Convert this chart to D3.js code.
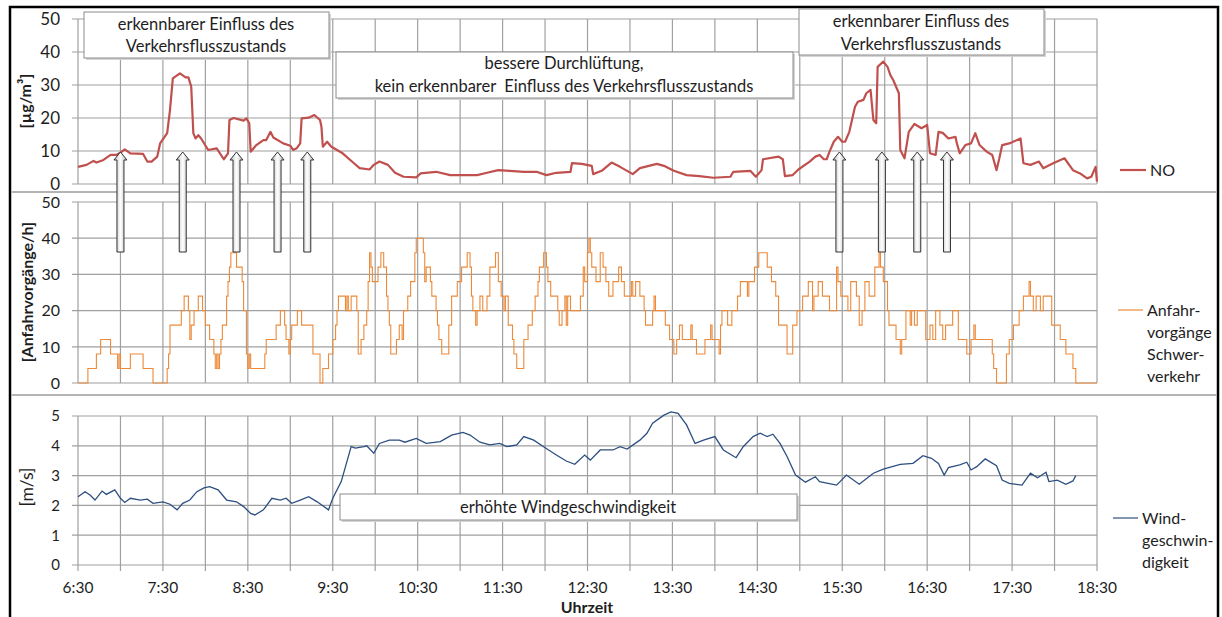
<!DOCTYPE html>
<html>
<head>
<meta charset="utf-8">
<script src="https://d3js.org/d3.v7.min.js"></script>
<style>
  html, body { margin: 0; padding: 0; background: #fff; }
  svg { display: block; font-family: Lato, "Open Sans", sans-serif; }
</style>
</head>
<body>
<svg id="chart" width="1222" height="617"></svg>
<script>
'use strict';

// time is minutes after 6:30
var xTickLabels = ['6:30', '7:30', '8:30', '9:30', '10:30', '11:30', '12:30',
                   '13:30', '14:30', '15:30', '16:30', '17:30', '18:30'];

// NO concentration [µg/m³]
var noSeries = [
  [0, 5.2], [6, 5.8], [11, 7.0], [13, 6.5], [18, 7.3], [23, 8.8], [27, 8.8], [30, 9.5],
  [33, 10.5], [37, 9.3], [46, 9.1], [49, 6.8], [52, 6.8], [56, 8.3], [58, 12.3], [63, 15.4],
  [65, 22.4], [67, 32], [72, 33.5], [76, 32.3], [78, 32.3], [80, 29.5], [81.5, 15.4], [83, 13.8],
  [85, 14.8], [87, 13.8], [92, 10.3], [98, 10.8], [103, 7.5], [106, 9.3], [107, 19.4], [110, 20],
  [117, 19.2], [119, 19.9], [121, 18.4], [122, 9.8], [126, 11.8], [131, 13.3], [133, 13.3],
  [136, 15.8], [138, 14.1], [145, 12.3], [150, 11.6], [152, 10.3], [154.5, 10.8], [157, 12.3],
  [158, 19.9], [163, 20.1], [167, 20.9], [171, 19.4], [172, 17.4], [173, 11.3], [176, 12.8],
  [179, 11.3], [187, 9.3], [195, 6.3], [199, 4.8], [206, 4.4], [209, 5.8], [213, 6.8], [219, 5.8],
  [224, 3.4], [230, 2.2], [239, 2.0], [242, 3.2], [253, 3.7], [263, 2.7], [282, 2.7], [289, 3.4],
  [297, 4.2], [305, 4.0], [315, 3.7], [324, 3.7], [331, 2.7], [338, 3.4], [348, 3.7], [349, 6.3],
  [356, 6.1], [363, 5.5], [364, 3.0], [370, 4.0], [377, 6.5], [383, 5.2], [392, 3.0], [397, 4.8],
  [409, 6.1], [414, 5.5], [421, 4.0], [430, 2.7], [439, 2.4], [449, 1.9], [461, 2.2], [463, 3.7],
  [475, 4.0], [479, 2.2], [483, 4.2], [484, 7.5], [495, 8.3], [498, 7.5], [499.5, 2.4], [505, 2.7],
  [509, 4.4], [517, 6.8], [521, 8.3], [524, 8.8], [527, 7.5], [529, 7.5], [531, 9.8], [534, 12.8],
  [537, 14.3], [540, 12.8], [542, 12.8], [545, 15.8], [549, 23.4], [551, 24.9], [555, 25.5],
  [557, 27.5], [560, 28.5], [562, 19.4], [564, 18.4], [565, 35.5], [569, 37.1], [572, 35.5],
  [574, 33], [576, 31.5], [580, 27.5], [581, 10.3], [584, 7.8], [587, 15.8], [591, 18.2],
  [596, 16.9], [600, 17.9], [602, 9.3], [606, 8.8], [608, 15.8], [611, 15.5], [615, 13.8],
  [620, 14.3], [621, 12.3], [623, 9.3], [627, 11.8], [631, 12.3], [634, 15.4], [637, 11.8],
  [642, 9.8], [646, 8.8], [649, 4.2], [651, 7.8], [653, 11.8], [658, 12.3], [666, 13.8],
  [668, 6.3], [673, 5.8], [679, 6.8], [682, 4.8], [689, 6.3], [697, 7.8], [703, 4.2], [708, 3.2],
  [713, 1.7], [716, 2.2], [719, 5.2], [720, 0.7]
];

// Anfahrvorgänge Schwerverkehr [1/h], value holds from the given minute on
var anfSeries = [
  [0, 0], [7, 4], [13, 8], [16, 12], [23, 8], [28, 4], [29, 8], [30, 4], [37, 8], [46, 4], [53, 0],
  [63, 4], [64, 8], [65, 16], [73, 20], [75, 24], [78, 20], [79, 12], [80, 16], [82, 20], [85, 24],
  [88, 20], [90, 16], [93, 12], [96, 8], [97, 4], [98, 8], [99, 4], [100, 8], [101, 12], [102, 16],
  [105, 24], [106, 28], [107, 32], [108, 36], [112, 32], [116, 28], [117, 20], [119, 8], [120, 4],
  [121, 8], [122, 4], [132, 8], [133, 12], [140, 16], [143, 20], [146, 16], [147, 12], [149, 8],
  [150, 12], [151, 16], [155, 20], [158, 16], [166, 8], [171, 0], [173, 4], [177, 8], [180, 12],
  [182, 16], [183, 20], [184, 24], [189, 20], [190, 24], [191, 20], [193, 24], [197, 20], [198, 8],
  [200, 12], [202, 16], [204, 20], [205, 28], [206, 36], [207, 32], [208, 28], [212, 32], [214, 36],
  [216, 32], [218, 24], [219, 20], [220, 16], [221, 8], [225, 12], [227, 16], [229, 12], [230, 20],
  [233, 24], [235, 28], [238, 36], [239, 40], [244, 36], [245, 28], [246, 32], [249, 28], [250, 24],
  [253, 20], [254, 16], [255, 12], [257, 8], [262, 16], [264, 24], [268, 28], [271, 32], [275, 36],
  [277, 32], [278, 24], [279, 20], [281, 16], [282, 20], [284, 24], [286, 20], [289, 24], [291, 32],
  [295, 36], [297, 28], [299, 24], [301, 20], [302, 24], [304, 16], [307, 12], [308, 8], [310, 4],
  [315, 12], [318, 16], [321, 20], [323, 24], [325, 28], [326, 32], [329, 36], [331, 32], [332, 28],
  [334, 24], [339, 20], [340, 16], [342, 20], [344, 24], [345, 16], [346, 24], [348, 20], [355, 24],
  [357, 32], [358, 28], [360, 36], [361, 40], [362, 36], [363, 32], [366, 28], [369, 36], [371, 32],
  [373, 28], [375, 24], [378, 28], [382, 32], [384, 28], [386, 24], [391, 28], [392, 24], [394, 28],
  [397, 24], [400, 20], [401, 16], [406, 20], [407, 24], [408, 20], [415, 16], [418, 12], [421, 8],
  [423, 12], [425, 16], [427, 12], [433, 16], [434, 12], [437, 8], [443, 12], [447, 16], [448, 12],
  [453, 8], [454, 16], [455, 20], [459, 16], [462, 20], [466, 24], [468, 28], [473, 24], [474, 28],
  [478, 32], [481, 36], [487, 32], [490, 28], [493, 24], [495, 16], [501, 8], [505, 16], [508, 20],
  [512, 24], [516, 28], [519, 20], [520, 24], [523, 28], [526, 24], [531, 20], [536, 32], [537, 28],
  [539, 24], [544, 20], [546, 28], [550, 24], [552, 16], [554, 20], [556, 28], [559, 24], [563, 32],
  [566, 36], [567, 32], [569, 28], [572, 20], [573, 16], [578, 12], [581, 8], [582, 12], [585, 20],
  [588, 16], [589, 20], [591, 16], [593, 20], [599, 12], [602, 16], [604, 12], [606, 20], [609, 16],
  [611, 12], [613, 16], [618, 20], [622, 12], [628, 8], [631, 12], [633, 16], [634, 12], [646, 8],
  [647, 4], [649, 0], [656, 8], [658, 12], [661, 16], [665, 20], [668, 24], [672, 28], [673, 24],
  [675, 20], [677, 24], [680, 20], [682, 24], [688, 16], [694, 12], [698, 8], [703, 4], [705, 0],
  [720, 0]
];

// Windgeschwindigkeit [m/s]
var windSeries = [
  [0, 2.29], [5, 2.46], [8.5, 2.35], [12, 2.18], [17, 2.48], [20, 2.37], [26, 2.52], [30, 2.24],
  [33, 2.10], [37, 2.24], [44, 2.18], [49, 2.21], [53, 2.07], [60, 2.12], [65, 2.04], [70, 1.85],
  [74, 2.07], [79, 2.18], [84, 2.46], [89, 2.59], [93, 2.63], [99, 2.52], [105, 2.18], [112, 2.12],
  [117, 1.96], [122, 1.73], [125, 1.68], [131, 1.85], [137, 2.24], [143, 2.18], [147, 2.24],
  [151, 2.07], [157, 2.18], [163, 2.29], [169, 2.12], [177, 1.85], [180, 2.24], [186, 2.80],
  [190, 3.47], [193, 3.97], [196, 3.92], [202, 3.97], [204, 4.0], [209, 3.75], [213, 4.08],
  [220, 4.19], [227, 4.19], [231, 4.12], [239, 4.25], [246, 4.08], [256, 4.14], [264, 4.36],
  [272, 4.45], [277, 4.36], [284, 4.12], [291, 4.03], [298, 4.08], [303, 3.97], [310, 4.03],
  [315, 4.31], [322, 4.19], [329, 3.97], [338, 3.69], [345, 3.49], [351, 3.38], [358, 3.69],
  [362, 3.52], [369, 3.86], [378, 3.86], [383, 3.97], [388, 3.89], [397, 4.19], [402, 4.42],
  [406, 4.76], [414, 5.03], [419, 5.14], [424, 5.09], [430, 4.70], [436, 4.08], [442, 4.19],
  [450, 4.31], [456, 3.86], [465, 3.60], [470, 3.97], [477, 4.31], [482, 4.42], [487, 4.31],
  [491, 4.39], [496, 4.08], [501, 3.64], [507, 3.02], [514, 2.78], [521, 2.96], [524, 2.80],
  [536, 2.68], [543, 3.02], [552, 2.71], [562, 3.08], [569, 3.22], [581, 3.38], [590, 3.41],
  [597, 3.67], [603, 3.58], [608, 3.41], [612, 3.02], [615, 3.27], [623, 3.36], [628, 3.45],
  [631, 3.19], [635, 3.30], [641, 3.56], [649, 3.33], [653, 2.85], [658, 2.74], [667, 2.68],
  [673, 3.08], [678, 2.93], [684, 3.11], [686, 2.80], [692, 2.85], [698, 2.71], [703, 2.82],
  [705, 3.0]
];

// arrows marking visible traffic influence (minutes after 6:30)
var arrowTimes = [30, 74, 112, 141, 162, 538, 568, 593, 614];

var svg = d3.select('#chart');
var textColor = '#1e1e1e',
    gridColor = '#a0a0a0';

var x = d3.scaleLinear().domain([0, 720]).range([78, 1097]);

var panels = [
  { key: 'no',   y: d3.scaleLinear().domain([0, 50]).range([184, 19]),  ticks: d3.range(0, 51, 10), fontSize: 17 },
  { key: 'anf',  y: d3.scaleLinear().domain([0, 50]).range([383, 202]), ticks: d3.range(0, 51, 10), fontSize: 16 },
  { key: 'wind', y: d3.scaleLinear().domain([0, 5]).range([565, 416]),  ticks: d3.range(0, 6, 1),   fontSize: 15 }
];

// outer frame and panel separators
svg.append('rect')
  .attr('x', 10).attr('y', 7).attr('width', 1208).attr('height', 640)
  .attr('fill', 'none').attr('stroke', '#000').attr('stroke-width', 2.5);

[192, 395].forEach(function (yy) {
  svg.append('line')
    .attr('x1', 11).attr('x2', 1217).attr('y1', yy).attr('y2', yy)
    .attr('stroke', '#b4b4b4').attr('stroke-width', 2);
});

// grids and axes
panels.forEach(function (p) {
  var g = svg.append('g').attr('class', 'panel-' + p.key);
  var y0 = p.y.range()[0], y1 = p.y.range()[1];

  g.selectAll('line.h').data(p.ticks).enter().append('line')
    .attr('x1', x.range()[0] - 6).attr('x2', x.range()[1])
    .attr('y1', function (d) { return p.y(d); })
    .attr('y2', function (d) { return p.y(d); })
    .attr('stroke', gridColor).attr('stroke-width', 1.2);

  var vt = d3.range(0, 721, 30);
  g.selectAll('line.v').data(vt).enter().append('line')
    .attr('x1', function (d) { return x(d); })
    .attr('x2', function (d) { return x(d); })
    .attr('y1', y1)
    .attr('y2', p.key === 'wind' ? y0 + 6 : y0)
    .attr('stroke', gridColor).attr('stroke-width', 1.2);

  g.selectAll('text.yt').data(p.ticks).enter().append('text')
    .attr('x', 60)
    .attr('y', function (d) { return p.y(d); })
    .attr('dy', '0.36em')
    .attr('text-anchor', 'end')
    .attr('font-size', p.fontSize)
    .attr('fill', textColor)
    .text(function (d) { return d; });
});

// x tick labels on the bottom panel
svg.selectAll('text.xt').data(xTickLabels).enter().append('text')
  .attr('x', function (d, i) { return x(i * 60); })
  .attr('y', 593)
  .attr('text-anchor', 'middle')
  .attr('font-size', 15.5)
  .attr('fill', textColor)
  .text(function (d) { return d; });

svg.append('text')
  .attr('x', 587).attr('y', 613)
  .attr('text-anchor', 'middle')
  .attr('font-size', 16).attr('font-weight', 'bold')
  .attr('fill', textColor)
  .text('Uhrzeit');

// y axis titles
function yTitle(label, cx, cy, bold, size) {
  svg.append('text')
    .attr('transform', 'translate(' + cx + ',' + cy + ') rotate(-90)')
    .attr('text-anchor', 'middle')
    .attr('dy', '0.35em')
    .attr('font-size', size)
    .attr('font-weight', bold ? 'bold' : 'normal')
    .attr('fill', textColor)
    .text(label);
}
yTitle('[µg/m³]', 25, 101, true, 16);
yTitle('[Anfahrvorgänge/h]', 27, 292, true, 16);
yTitle('[m/s]', 27, 487, false, 17.5);

// series lines
svg.append('path')
  .datum(anfSeries)
  .attr('fill', 'none')
  .attr('stroke', '#ec8a3a')
  .attr('stroke-width', 1.1)
  .attr('d', d3.line().curve(d3.curveStepAfter)
    .x(function (d) { return x(d[0]); })
    .y(function (d) { return panels[1].y(d[1]); }));

svg.append('path')
  .datum(windSeries)
  .attr('fill', 'none')
  .attr('stroke', '#2c4f80')
  .attr('stroke-width', 1.3)
  .attr('d', d3.line()
    .x(function (d) { return x(d[0]); })
    .y(function (d) { return panels[2].y(d[1]); }));

svg.append('path')
  .datum(noSeries)
  .attr('fill', 'none')
  .attr('stroke', '#c0504d')
  .attr('stroke-width', 2.2)
  .attr('stroke-linejoin', 'round')
  .attr('d', d3.line()
    .x(function (d) { return x(d[0]); })
    .y(function (d) { return panels[0].y(d[1]); }));

// legends
function legend(x1, x2, y, color, width, lines) {
  svg.append('line')
    .attr('x1', x1).attr('x2', x2).attr('y1', y).attr('y2', y)
    .attr('stroke', color).attr('stroke-width', width);
  lines.forEach(function (t, i) {
    svg.append('text')
      .attr('x', x2 + 4).attr('y', y + i * 22)
      .attr('dy', '0.36em')
      .attr('font-size', 16)
      .attr('fill', textColor)
      .text(t);
  });
}
legend(1120, 1146, 170, '#c0504d', 2.2, ['NO']);
legend(1118, 1143, 310, '#ec8a3a', 1.2, ['Anfahr-', 'vorgänge', 'Schwer-', 'verkehr']);
legend(1113, 1138, 518, '#2c4f80', 1.2, ['Wind-', 'geschwin-', 'digkeit']);

// annotation boxes
var defs = svg.append('defs');
function note(x0, y0, w, h, lines, lineYs, cx) {
  svg.append('rect')
    .attr('x', x0 + 2).attr('y', y0 + 2).attr('width', w).attr('height', h)
    .attr('fill', '#d4d4d4');
  svg.append('rect')
    .attr('x', x0).attr('y', y0).attr('width', w).attr('height', h)
    .attr('fill', '#fff').attr('stroke', '#8c8c8c').attr('stroke-width', 1);
  lines.forEach(function (t, i) {
    svg.append('text')
      .attr('x', cx).attr('y', lineYs[i])
      .attr('dy', '0.36em')
      .attr('text-anchor', 'middle')
      .attr('font-size', 16.5)
      .attr('fill', textColor)
      .style('white-space', 'pre')
      .text(t);
  });
}
note(84, 12, 245, 46, ['erkennbarer Einfluss des', 'Verkehrsflusszustands'], [24, 46], 206);
note(336, 52, 457, 46, ['bessere Durchlüftung,', 'kein erkennbarer  Einfluss des Verkehrsflusszustands'], [63, 86], 564);
note(799, 9, 245, 46, ['erkennbarer Einfluss des', 'Verkehrsflusszustands'], [21, 44], 921);
note(340, 494, 457, 26, ['erhöhte Windgeschwindigkeit'], [507], 568);

// hollow arrows
var grad = defs.append('linearGradient').attr('id', 'arrowFill')
  .attr('x1', '0%').attr('x2', '100%').attr('y1', '0%').attr('y2', '0%');
grad.append('stop').attr('offset', '0%').attr('stop-color', '#b8b8b8');
grad.append('stop').attr('offset', '50%').attr('stop-color', '#ffffff');
grad.append('stop').attr('offset', '100%').attr('stop-color', '#b8b8b8');

svg.selectAll('path.arrow').data(arrowTimes).enter().append('path')
  .attr('class', 'arrow')
  .attr('d', function (t) {
    var cx = x(t), tip = 152, base = 160, bottom = 252, hw = 6.5, sw = 3.5;
    return 'M' + cx + ',' + tip +
      'L' + (cx + hw) + ',' + base +
      'L' + (cx + sw) + ',' + base +
      'L' + (cx + sw) + ',' + bottom +
      'L' + (cx - sw) + ',' + bottom +
      'L' + (cx - sw) + ',' + base +
      'L' + (cx - hw) + ',' + base + 'Z';
  })
  .attr('fill', 'url(#arrowFill)')
  .attr('stroke', '#333')
  .attr('stroke-width', 1);
</script>
</body>
</html>
